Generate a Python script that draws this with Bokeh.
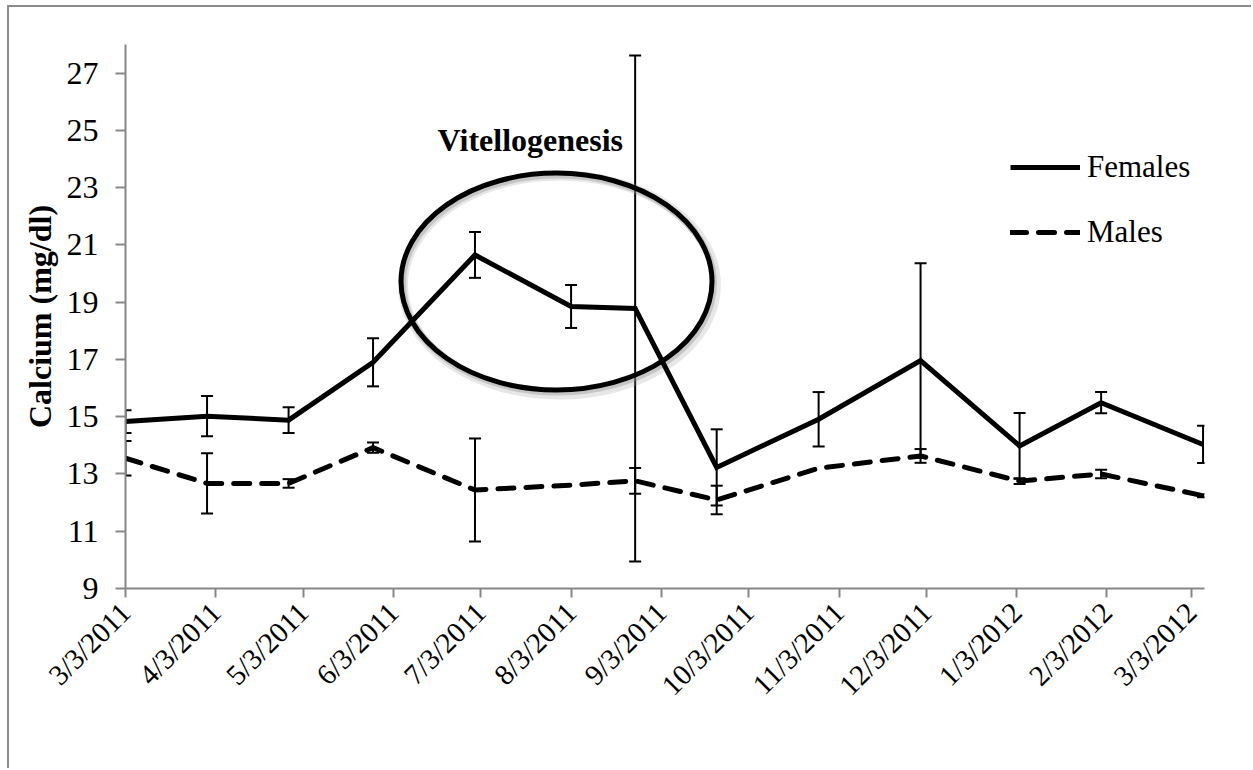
import datetime as dt
from bokeh.plotting import figure
from bokeh.models import (ColumnDataSource, Range1d, FixedTicker, Whisker, TeeHead,
                          Legend, LegendItem, Label)
from bokeh.embed import file_html
from bokeh.resources import INLINE

# ---------------- data ----------------
sample_dates = ["2011-03-03", "2011-03-31", "2011-04-28", "2011-05-27", "2011-07-01",
                "2011-08-03", "2011-08-25", "2011-09-22", "2011-10-27", "2011-12-01",
                "2012-01-04", "2012-02-01", "2012-03-07"]
females = [14.83, 15.02, 14.88, 16.90, 20.65, 18.85, 18.78, 13.23, 14.91, 16.96, 13.98, 15.49, 14.03]
females_err = [0.40, 0.70, 0.45, 0.84, 0.80, 0.75, 8.84, 1.33, 0.95, 3.40, 1.15, 0.37, 0.65]
males = [13.55, 12.67, 12.67, 13.92, 12.44, 12.61, 12.76, 12.09, 13.20, 13.63, 12.75, 13.00, 12.24]
males_err = [0.60, 1.05, 0.15, 0.18, 1.80, 0.00, 0.45, 0.50, 0.00, 0.24, 0.10, 0.15, 0.05]

tick_dates = ["2011-03-03", "2011-04-03", "2011-05-03", "2011-06-03", "2011-07-03",
              "2011-08-03", "2011-09-03", "2011-10-03", "2011-11-03", "2011-12-03",
              "2012-01-03", "2012-02-03", "2012-03-03"]
tick_labels = ["3/3/2011", "4/3/2011", "5/3/2011", "6/3/2011", "7/3/2011", "8/3/2011",
               "9/3/2011", "10/3/2011", "11/3/2011", "12/3/2011", "1/3/2012", "2/3/2012",
               "3/3/2012"]
y_ticks = [9, 11, 13, 15, 17, 19, 21, 23, 25, 27]

series_names = ["Females", "Males"]
y_label = "Calcium (mg/dl)"
annotation_text = "Vitellogenesis"

# ---------------- helpers ----------------
EPOCH = dt.datetime(1970, 1, 1)


def to_dt(s):
    return dt.datetime.strptime(s, "%Y-%m-%d")


def to_ms(d):
    return (d - EPOCH).total_seconds() * 1000.0


xs = [to_dt(s) for s in sample_dates]
tick_ms = [to_ms(to_dt(s)) for s in tick_dates]


def err_source(vals, errs):
    keep = [i for i, e in enumerate(errs) if e > 0]
    return ColumnDataSource(dict(x=[xs[i] for i in keep],
                                 upper=[vals[i] + errs[i] for i in keep],
                                 lower=[vals[i] - errs[i] for i in keep]))


src_f = ColumnDataSource(dict(x=xs, y=females))
src_m = ColumnDataSource(dict(x=xs, y=males))
err_f = err_source(females, females_err)
err_m = err_source(males, males_err)

FONT = "Liberation Serif"
AXIS_GRAY = "#878787"

p = figure(width=1244, height=763, x_axis_type="datetime",
           x_range=Range1d(to_dt("2011-03-03"), to_dt("2012-03-07") + dt.timedelta(hours=12)),
           y_range=Range1d(9, 28),
           output_backend="svg", toolbar_location=None,
           min_border_left=116, min_border_right=49, min_border_top=37, min_border_bottom=182)
p.styles = {"margin-left": "7px", "margin-top": "5px",
            "border-left": "2px solid #8c8c8c", "border-top": "2px solid #8c8c8c"}
p.outline_line_color = None
p.xgrid.visible = False
p.ygrid.visible = False
p.background_fill_color = "white"
p.border_fill_color = "white"

xa = p.xaxis[0]
ya = p.yaxis[0]

# axes
xa.ticker = FixedTicker(ticks=tick_ms)
xa.major_label_overrides = {t: lab for t, lab in zip(tick_ms, tick_labels)}
xa.major_label_orientation = 0.785398
ya.ticker = FixedTicker(ticks=y_ticks)
for ax in (xa, ya):
    ax.axis_line_color = AXIS_GRAY
    ax.axis_line_width = 2
    ax.major_tick_line_color = AXIS_GRAY
    ax.major_tick_line_width = 2
    ax.major_tick_in = 0
    ax.minor_tick_line_color = None
    ax.major_label_text_font = FONT
    ax.major_label_text_font_style = "normal"
    ax.major_label_text_color = "black"
xa.major_tick_out = 9
ya.major_tick_out = 10
xa.major_label_text_font_size = "29px"
ya.major_label_text_font_size = "32px"
xa.major_label_standoff = 10
ya.major_label_standoff = 17
ya.axis_label = y_label
ya.axis_label_text_font = FONT
ya.axis_label_text_font_size = "32px"
ya.axis_label_text_font_style = "bold"
ya.axis_label_text_color = "black"
ya.axis_label_standoff = 6

# ellipse highlighting vitellogenesis (soft shadow + outline)
ell_center = to_dt("2011-07-29")
p.ellipse(x=[ell_center + dt.timedelta(days=1)], y=[19.72 - 0.12], width=313, height=219,
          width_units="screen", height_units="screen", fill_alpha=0,
          line_color="#a0a0a0", line_alpha=0.25, line_width=10)
p.ellipse(x=[ell_center + dt.timedelta(hours=12)], y=[19.72 - 0.07], width=311, height=217,
          width_units="screen", height_units="screen", fill_alpha=0,
          line_color="#8a8a8a", line_alpha=0.35, line_width=7)
p.ellipse(x=[ell_center], y=[19.72], width=311, height=217,
          width_units="screen", height_units="screen", fill_alpha=0,
          line_color="black", line_width=5)

# lines
rf = p.line("x", "y", source=src_f, line_color="black", line_width=5, line_join="miter")
rm = p.line("x", "y", source=src_m, line_color="black", line_width=5,
            line_dash="16 12", line_cap="round", line_join="round")

# error bars
for src in (err_f, err_m):
    w = Whisker(source=src, base="x", upper="upper", lower="lower",
                line_color="black", line_width=2,
                upper_head=TeeHead(size=12, line_color="black", line_width=2),
                lower_head=TeeHead(size=12, line_color="black", line_width=2))
    p.add_layout(w)

# annotation text
p.add_layout(Label(x=to_ms(to_dt("2011-07-20")), y=24.67, text=annotation_text,
                   text_font=FONT, text_font_style="bold", text_font_size="32px",
                   text_align="center", text_baseline="alphabetic", text_color="black"))

# legend
legend = Legend(items=[LegendItem(label=series_names[0], renderers=[rf]),
                       LegendItem(label=series_names[1], renderers=[rm])],
                location=(885, 338), orientation="vertical",
                glyph_width=70, glyph_height=36, label_height=36, label_standoff=7,
                spacing=29, padding=0, margin=0,
                label_text_font=FONT, label_text_font_size="31px", label_text_color="black",
                border_line_color=None, background_fill_alpha=0)
p.add_layout(legend)

open("out.html", "w").write(file_html(p, INLINE))
